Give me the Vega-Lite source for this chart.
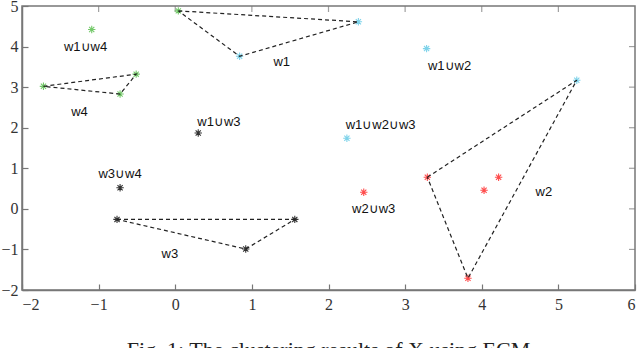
{
  "$schema": "https://vega.github.io/schema/vega-lite/v6.json",
  "width": 613,
  "height": 284,
  "autosize": "none",
  "padding": {"left": 22, "top": 6, "right": 5, "bottom": 58},
  "background": "white",
  "config": {
    "view": {"stroke": "#777777", "strokeWidth": 1.5},
    "axis": {"grid": false, "domainColor": "#777777", "tickColor": "#777777", "labelFont": "Liberation Serif", "labelFontSize": 16, "labelColor": "#333333", "tickSize": -6, "tickWidth": 1.2, "domainWidth": 1.5}
  },
  "title": {"text": "Fig. 1: The clustering results of X using ECM", "orient": "bottom", "anchor": "middle", "font": "Liberation Serif", "fontSize": 22, "fontWeight": "normal", "color": "#222222", "offset": 28, "baseline": "top"},
  "layer": [
    {
      "data": {"values": [{"x": -1, "y": 5}, {"x": 0, "y": 5}, {"x": 1, "y": 5}, {"x": 2, "y": 5}, {"x": 3, "y": 5}, {"x": 4, "y": 5}, {"x": 5, "y": 5}]},
      "mark": {"type": "tick", "orient": "vertical", "color": "#777777", "thickness": 1.2, "size": 12, "clip": true},
      "encoding": {
        "x": {"field": "x", "type": "quantitative", "scale": {"domain": [-2, 6], "nice": false, "zero": false}, "axis": {"values": [-2, -1, 0, 1, 2, 3, 4, 5, 6], "format": "d", "labelPadding": 12, "labelFont": "Liberation Serif", "labelFontSize": 16, "labelColor": "#333333", "tickSize": -6, "title": null}},
        "y": {"field": "y", "type": "quantitative", "scale": {"domain": [-2, 5], "nice": false, "zero": false}, "axis": {"values": [-2, -1, 0, 1, 2, 3, 4, 5], "format": "d", "labelPadding": 10, "labelFont": "Liberation Serif", "labelFontSize": 16, "labelColor": "#333333", "tickSize": -6, "title": null}}
      }
    },
    {
      "data": {"values": [{"x": 6, "y": -1}, {"x": 6, "y": 0}, {"x": 6, "y": 1}, {"x": 6, "y": 2}, {"x": 6, "y": 3}, {"x": 6, "y": 4}]},
      "mark": {"type": "tick", "orient": "horizontal", "color": "#777777", "thickness": 1.2, "size": 12, "clip": true},
      "encoding": {
        "x": {"field": "x", "type": "quantitative"},
        "y": {"field": "y", "type": "quantitative"}
      }
    },
    {
      "data": {"values": [
        {"x": -1.09, "y": 4.42, "c": "#74c96a"},
        {"x": -1.72, "y": 3.02, "c": "#74c96a"},
        {"x": -0.51, "y": 3.32, "c": "#74c96a"},
        {"x": -0.72, "y": 2.83, "c": "#74c96a"},
        {"x": 0.04, "y": 4.88, "c": "#74c96a"},
        {"x": 0.84, "y": 3.76, "c": "#7fd3ea"},
        {"x": 2.39, "y": 4.61, "c": "#7fd3ea"},
        {"x": 3.28, "y": 3.95, "c": "#7fd3ea"},
        {"x": 5.24, "y": 3.17, "c": "#7fd3ea"},
        {"x": 2.24, "y": 1.74, "c": "#7fd3ea"},
        {"x": 0.3, "y": 1.87, "c": "#333333"},
        {"x": -0.72, "y": 0.52, "c": "#333333"},
        {"x": -0.76, "y": -0.26, "c": "#333333"},
        {"x": 1.56, "y": -0.26, "c": "#333333"},
        {"x": 0.92, "y": -0.99, "c": "#333333"},
        {"x": 2.46, "y": 0.41, "c": "#ff4d4d"},
        {"x": 3.29, "y": 0.78, "c": "#ff4d4d"},
        {"x": 4.03, "y": 0.46, "c": "#ff4d4d"},
        {"x": 4.22, "y": 0.78, "c": "#ff4d4d"},
        {"x": 3.82, "y": -1.71, "c": "#ff4d4d"}
      ]},
      "mark": {"type": "point", "shape": "M-1,0L1,0M0,-1L0,1M-0.7,-0.7L0.7,0.7M-0.7,0.7L0.7,-0.7", "filled": false, "size": 55, "strokeWidth": 1.1, "opacity": 1},
      "encoding": {
        "x": {"field": "x", "type": "quantitative"},
        "y": {"field": "y", "type": "quantitative"},
        "stroke": {"field": "c", "type": "nominal", "scale": null}
      }
    },
    {
      "data": {"values": [
        {"tri": "w1", "ord": 1, "x": 0.04, "y": 4.88},
        {"tri": "w1", "ord": 2, "x": 2.39, "y": 4.61},
        {"tri": "w1", "ord": 3, "x": 0.84, "y": 3.76},
        {"tri": "w1", "ord": 4, "x": 0.04, "y": 4.88},
        {"tri": "w2", "ord": 1, "x": 3.29, "y": 0.78},
        {"tri": "w2", "ord": 2, "x": 5.24, "y": 3.17},
        {"tri": "w2", "ord": 3, "x": 3.82, "y": -1.71},
        {"tri": "w2", "ord": 4, "x": 3.29, "y": 0.78},
        {"tri": "w3", "ord": 1, "x": -0.76, "y": -0.26},
        {"tri": "w3", "ord": 2, "x": 1.56, "y": -0.26},
        {"tri": "w3", "ord": 3, "x": 0.92, "y": -0.99},
        {"tri": "w3", "ord": 4, "x": -0.76, "y": -0.26},
        {"tri": "w4", "ord": 1, "x": -1.72, "y": 3.02},
        {"tri": "w4", "ord": 2, "x": -0.51, "y": 3.32},
        {"tri": "w4", "ord": 3, "x": -0.72, "y": 2.83},
        {"tri": "w4", "ord": 4, "x": -1.72, "y": 3.02}
      ]},
      "mark": {"type": "line", "color": "#222222", "strokeWidth": 1.2, "strokeDash": [4, 3]},
      "encoding": {
        "x": {"field": "x", "type": "quantitative"},
        "y": {"field": "y", "type": "quantitative"},
        "detail": {"field": "tri"},
        "order": {"field": "ord", "type": "quantitative"}
      }
    },
    {
      "data": {"values": [
        {"x": -1.17, "y": 3.99, "t": "w1∪w4"},
        {"x": 1.39, "y": 3.62, "t": "w1"},
        {"x": -1.25, "y": 2.38, "t": "w4"},
        {"x": 0.57, "y": 2.14, "t": "w1∪w3"},
        {"x": 3.58, "y": 3.52, "t": "w1∪w2"},
        {"x": 2.68, "y": 2.06, "t": "w1∪w2∪w3"},
        {"x": -0.72, "y": 0.86, "t": "w3∪w4"},
        {"x": -0.07, "y": -1.12, "t": "w3"},
        {"x": 2.59, "y": 0.0, "t": "w2∪w3"},
        {"x": 4.81, "y": 0.41, "t": "w2"}
      ]},
      "mark": {"type": "text", "font": "Liberation Sans", "fontSize": 13, "color": "#111111", "align": "center", "baseline": "middle"},
      "encoding": {
        "x": {"field": "x", "type": "quantitative"},
        "y": {"field": "y", "type": "quantitative"},
        "text": {"field": "t"}
      }
    }
  ]
}
